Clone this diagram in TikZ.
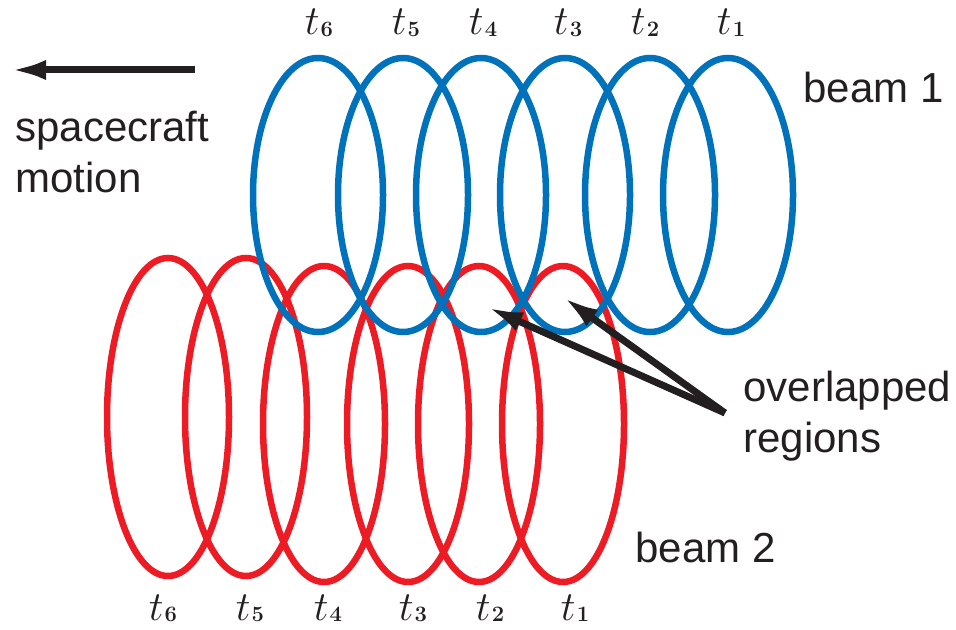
\documentclass[tikz,border=0pt]{standalone}
\usepackage{amsmath}
\usepackage{fontspec}
\setsansfont{Liberation Sans}
\usetikzlibrary{arrows.meta}
\definecolor{beamblue}{HTML}{0072BC}
\definecolor{beamred}{HTML}{ED1C24}
\definecolor{ink}{HTML}{231F20}
\newcommand{\tlab}[1]{$t$\kern0.6pt\lower0.6pt\hbox{\fontsize{11}{11}\selectfont\bfseries #1}}
\tikzset{
  bluebeam/.style={draw=beamblue, line width=3.25pt},
  redbeam/.style={draw=beamred, line width=3.25pt},
  tlabel/.style={anchor=base, inner sep=0pt, text=ink, font=\fontsize{21}{25}\selectfont},
  caption/.style={anchor=base west, inner sep=0pt, text=ink, align=left,
    font=\sffamily\fontsize{21}{25.5}\selectfont},
  pointer/.style={draw=ink, line width=3.5pt, -{Latex[length=18pt,width=10pt]}}
}
\begin{document}
\begin{tikzpicture}[x=0.5pt,y=-0.5pt]
\useasboundingbox (0,0) rectangle (956,630);
% beam 2 (red)
\draw[redbeam] (168,417) ellipse [x radius=30.5pt, y radius=79.5pt];
\draw[redbeam] (246,417) ellipse [x radius=30.5pt, y radius=79.5pt];
\draw[redbeam] (324,424) ellipse [x radius=30.5pt, y radius=79pt];
\draw[redbeam] (408,424) ellipse [x radius=30.5pt, y radius=79pt];
\draw[redbeam] (479,424) ellipse [x radius=30.5pt, y radius=79pt];
\draw[redbeam] (563,424) ellipse [x radius=30.5pt, y radius=79pt];
% beam 1 (blue)
\foreach \cx in {318,403,481,565,650,728}
  \draw[bluebeam] (\cx,195) ellipse [x radius=32.5pt, y radius=68.5pt];
% time labels
\node[tlabel] (b6) at (319,35) {\tlab{6}};
\node[tlabel] (b5) at (406,35) {\tlab{5}};
\node[tlabel] (b4) at (483,35) {\tlab{4}};
\node[tlabel] (b3) at (568,35) {\tlab{3}};
\node[tlabel] (b2) at (645,35) {\tlab{2}};
\node[tlabel] (b1) at (731,35) {\tlab{1}};
\node[tlabel] (r6) at (163,620) {\tlab{6}};
\node[tlabel] (r5) at (250,620) {\tlab{5}};
\node[tlabel] (r4) at (328,620) {\tlab{4}};
\node[tlabel] (r3) at (413,620) {\tlab{3}};
\node[tlabel] (r2) at (490,620) {\tlab{2}};
\node[tlabel] (r1) at (575,620) {\tlab{1}};
% captions
\node[caption] (beamone) at (803,103) {beam 1};
\node[caption] (beamtwo) at (635,562) {beam 2};
\node[caption] (overlap) at (743,452) {overlapped\\regions};
\node[caption] (motion) at (15,193) {spacecraft\\motion};
% arrows
\coordinate (mtail) at (195,70);
\coordinate (mtip) at (10,70);
\draw[pointer] (mtail) -- (mtip);
\coordinate (otail) at (725,413);
\coordinate (otipa) at (487,307);
\coordinate (otipb) at (563,297);
\draw[pointer] (otail) -- (otipa);
\draw[pointer] (otail) -- (otipb);
\end{tikzpicture}
\end{document}
